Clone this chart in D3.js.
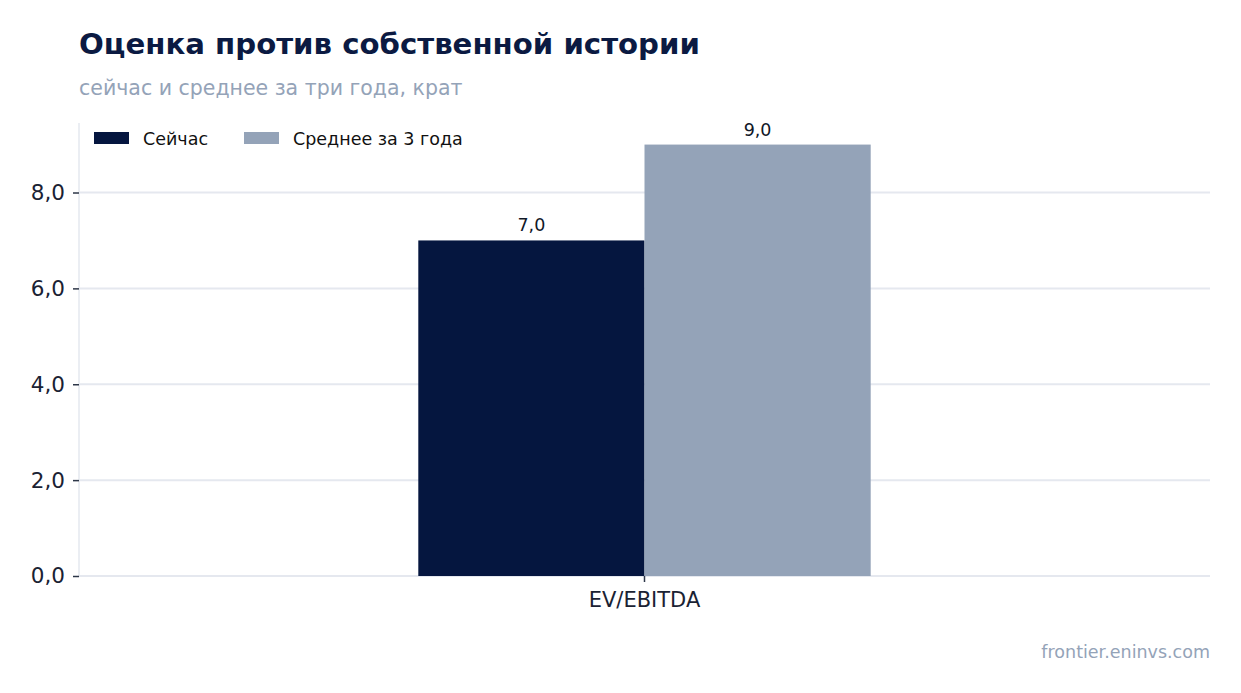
<!DOCTYPE html>
<html lang="ru">
<head>
<meta charset="utf-8">
<title>Оценка против собственной истории</title>
<script src="https://d3js.org/d3.v7.min.js"></script>
<style>
  body { margin: 0; background: #fff; }
  text { font-family: "DejaVu Sans", sans-serif; }
</style>
</head>
<body>
<div id="chart"></div>
<script>
// data
var categories = ["EV/EBITDA"];
var seriesNames = ["Сейчас", "Среднее за 3 года"];
var nowValues = [7.0];
var avgValues = [9.0];
var yTicks = [0, 2, 4, 6, 8];

var colors = ["#05163f", "#94a3b8"];

var W = 1241, H = 693;
var margin = {top: 123, right: 31, bottom: 117, left: 79};
var width = W - margin.left - margin.right,
    height = H - margin.top - margin.bottom;

var svg = d3.select("#chart").append("svg")
    .attr("width", W)
    .attr("height", H);

// titles
svg.append("text")
    .attr("x", 79).attr("y", 54)
    .attr("font-size", 29.2).attr("font-weight", "bold")
    .attr("fill", "#0b1a42")
    .text("Оценка против собственной истории");

svg.append("text")
    .attr("x", 79).attr("y", 95)
    .attr("font-size", 20.5)
    .attr("fill", "#94a3b8")
    .text("сейчас и среднее за три года, крат");

svg.append("text")
    .attr("x", W - 31).attr("y", 658)
    .attr("text-anchor", "end")
    .attr("font-size", 17.5)
    .attr("fill", "#94a3b8")
    .text("frontier.eninvs.com");

var g = svg.append("g")
    .attr("transform", "translate(" + margin.left + "," + margin.top + ")");

var x0 = d3.scaleBand()
    .domain(categories)
    .range([0, width])
    .paddingInner(0)
    .paddingOuter(0.75);

var x1 = d3.scaleBand()
    .domain(seriesNames)
    .range([0, x0.bandwidth()]);

var y = d3.scaleLinear()
    .domain([0, 9.45])
    .range([height, 0]);

var fmt = function(d) { return d3.format(".1f")(d).replace(".", ","); };

// grid
g.selectAll(".grid")
    .data(yTicks)
  .enter().append("line")
    .attr("x1", 0).attr("x2", width)
    .attr("y1", function(d) { return y(d); })
    .attr("y2", function(d) { return y(d); })
    .attr("stroke", "#e5e8ef")
    .attr("stroke-width", 2);

// left spine
g.append("line")
    .attr("x1", 0).attr("x2", 0)
    .attr("y1", 0).attr("y2", height)
    .attr("stroke", "#e5e8ef")
    .attr("stroke-width", 1.5);

// bars
var rows = categories.map(function(c, i) {
  return {cat: c, vals: [
    {name: seriesNames[0], v: nowValues[i], c: colors[0]},
    {name: seriesNames[1], v: avgValues[i], c: colors[1]}
  ]};
});

var grp = g.selectAll(".grp")
    .data(rows)
  .enter().append("g")
    .attr("transform", function(d) { return "translate(" + x0(d.cat) + ",0)"; });

grp.selectAll("rect")
    .data(function(d) { return d.vals; })
  .enter().append("rect")
    .attr("x", function(d) { return x1(d.name); })
    .attr("width", x1.bandwidth())
    .attr("y", function(d) { return y(d.v); })
    .attr("height", function(d) { return height - y(d.v); })
    .attr("fill", function(d) { return d.c; });

grp.selectAll(".lbl")
    .data(function(d) { return d.vals; })
  .enter().append("text")
    .attr("x", function(d) { return x1(d.name) + x1.bandwidth() / 2; })
    .attr("y", function(d) { return y(d.v) - 9; })
    .attr("text-anchor", "middle")
    .attr("font-size", 17.5)
    .attr("fill", "#111827")
    .text(function(d) { return fmt(d.v); });

// y axis
var yAxis = g.append("g")
    .call(d3.axisLeft(y).tickValues(yTicks).tickFormat(fmt).tickSize(6).tickPadding(8));
yAxis.select(".domain").remove();
yAxis.selectAll(".tick line").attr("stroke", "#2d3748").attr("stroke-width", 1.5);
yAxis.selectAll("text").attr("font-size", 21.5).attr("fill", "#1a2233")
    .attr("font-family", "DejaVu Sans, sans-serif");

// x axis
var xAxis = g.append("g")
    .attr("transform", "translate(0," + height + ")")
    .call(d3.axisBottom(x0).tickSize(6).tickPadding(10));
xAxis.select(".domain").remove();
xAxis.selectAll(".tick line").attr("stroke", "#2d3748").attr("stroke-width", 1.5);
xAxis.selectAll("text").attr("font-size", 21).attr("fill", "#1a2233")
    .attr("font-family", "DejaVu Sans, sans-serif");

// legend
var legend = svg.append("g").attr("transform", "translate(94,132)");
var offsets = [0, 150];
seriesNames.forEach(function(n, i) {
  var lg = legend.append("g").attr("transform", "translate(" + offsets[i] + ",0)");
  lg.append("rect").attr("width", 35).attr("height", 12).attr("fill", colors[i]);
  lg.append("text").attr("x", 49).attr("y", 12.5)
    .attr("font-size", 17.5).attr("fill", "#111")
    .text(n);
});
</script>
</body>
</html>
